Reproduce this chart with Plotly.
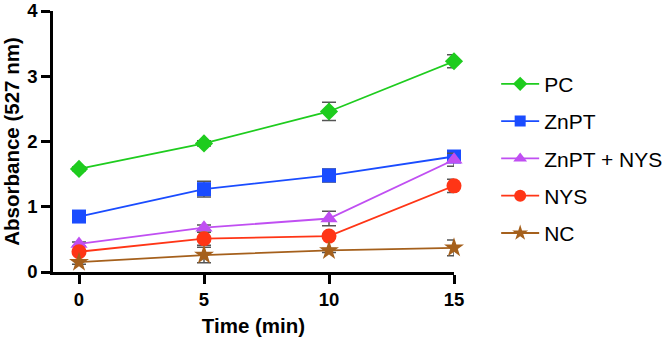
import plotly.graph_objects as go

time = [0, 5, 10, 15]
series_names = ["PC", "ZnPT", "ZnPT + NYS", "NYS", "NC"]
pc = [1.58, 1.97, 2.46, 3.23]
pc_err = [0.03, 0.04, 0.14, 0.10]
znpt = [0.85, 1.27, 1.48, 1.77]
znpt_err = [0.03, 0.12, 0.10, 0.05]
znpt_nys = [0.43, 0.68, 0.82, 1.72]
znpt_nys_err = [0.03, 0.04, 0.11, 0.10]
nys = [0.31, 0.51, 0.55, 1.32]
nys_err = [0.03, 0.10, 0.03, 0.10]
nc = [0.15, 0.26, 0.33, 0.37]
nc_err = [0.03, 0.12, 0.03, 0.12]

values = [pc, znpt, znpt_nys, nys, nc]
errors = [pc_err, znpt_err, znpt_nys_err, nys_err, nc_err]
colors = ["#1ecc1e", "#1a4cff", "#c04ff2", "#ff3516", "#a5601c"]
symbols = ["diamond", "square", "triangle-up", "circle", "star"]
sizes = [14, 14, 15, 15, 15]
legend_sizes = [11, 11, 12, 12, 12]

fig = go.Figure()
for i, name in enumerate(series_names):
    fig.add_trace(go.Scatter(
        x=time, y=values[i], name=name, mode="lines+markers",
        line=dict(color=colors[i], width=1.8),
        marker=dict(symbol=symbols[i], size=sizes[i], color=colors[i]),
        error_y=dict(type="data", array=errors[i], color="#555555", thickness=1.5, width=7),
        legendgroup=name, cliponaxis=False, showlegend=False,
    ))
for i, name in enumerate(series_names):
    fig.add_trace(go.Scatter(
        x=[None], y=[None], name=name, mode="lines+markers",
        line=dict(color=colors[i], width=1.8),
        marker=dict(symbol=symbols[i], size=legend_sizes[i], color=colors[i]),
        legendgroup=name, showlegend=True,
    ))

font_family = "Liberation Sans, Arial, sans-serif"
fig.update_layout(
    width=666, height=344,
    margin=dict(l=53, r=212, t=11, b=72, autoexpand=False),
    paper_bgcolor="white", plot_bgcolor="white",
    font=dict(family=font_family, color="black"),
    legend=dict(xref="container", yref="container", x=0.745, y=0.815,
                xanchor="left", yanchor="top", maxheight=320,
                font=dict(size=21, family=font_family), tracegroupgap=7,
                itemwidth=38,
                bgcolor="rgba(0,0,0,0)"),
    xaxis=dict(range=[-1.04, 15], tickvals=[0, 5, 10, 15], showgrid=False, zeroline=False,
               showline=True, linecolor="black", linewidth=2.5, automargin=False,
               ticks="outside", ticklen=9, tickwidth=2.5, tickcolor="black",
               tickfont=dict(size=18.5, family=font_family, weight="bold"),
               title=dict(text="<b>Time (min)</b>", font=dict(size=20.5, family=font_family), standoff=10)),
    yaxis=dict(range=[0, 4], tickvals=[0, 1, 2, 3, 4], showgrid=False, zeroline=False,
               showline=True, linecolor="black", linewidth=2.5, ticklabeloverflow="allow",
               automargin=False,
               ticks="outside", ticklen=9, tickwidth=2.5, tickcolor="black",
               tickfont=dict(size=18.5, family=font_family, weight="bold"),
               title=dict(text="<b>Absorbance (527 nm)</b>", font=dict(size=20.5, family=font_family), standoff=4)),
)

fig.write_html("out.html")
